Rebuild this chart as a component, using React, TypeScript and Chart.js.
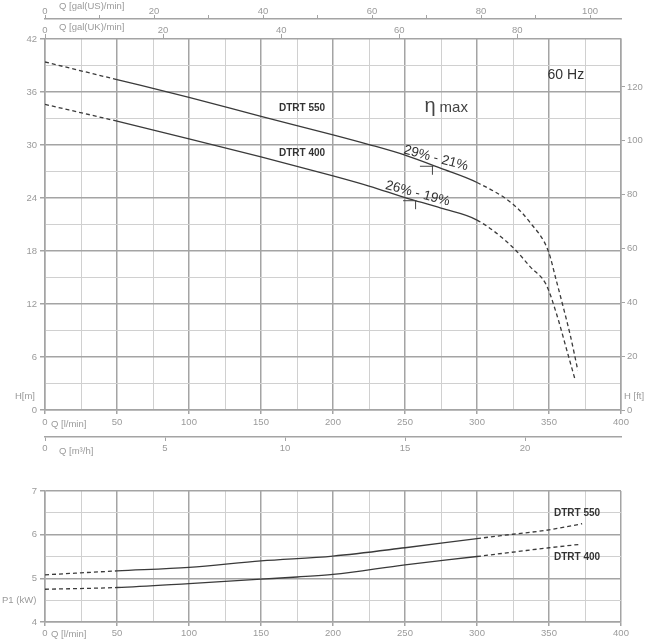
import React, { useEffect, useRef } from 'react';
import { Chart, registerables } from 'chart.js';

Chart.register(...registerables);

// ---------- data ----------
// Head curves (Q in l/min, H in m)
const flow550 = [0, 50, 100, 150, 200, 225, 250, 275, 300, 325, 337, 349.5, 355, 359.5, 365, 370];
const head550 = [39.4, 37.4, 35.4, 33.25, 31.15, 30.05, 28.85, 27.35, 25.75, 23.3, 21.2, 18.0, 14.7, 11.9, 8.3, 4.5];
const flow400 = [0, 50, 100, 150, 200, 225, 250, 275, 300, 325, 337, 348, 355, 363, 368];
const head400 = [34.6, 32.7, 30.7, 28.65, 26.5, 25.35, 24.05, 22.85, 21.5, 18.4, 16.2, 14.2, 11.0, 6.4, 3.5];

// Power curves (Q in l/min, P1 in kW)
const powerFlow550 = [0, 50, 100, 150, 200, 250, 300, 325, 350, 373];
const power550 = [5.08, 5.17, 5.25, 5.4, 5.51, 5.7, 5.91, 6.01, 6.11, 6.25];
const powerFlow400 = [0, 50, 100, 150, 175, 200, 250, 300, 350, 372];
const power400 = [4.75, 4.79, 4.88, 4.98, 5.03, 5.09, 5.31, 5.5, 5.7, 5.78];

// Solid (catalogue) range of each curve; outside it the curves are dashed
const solidFrom = 50;
const solidTo = 300;

// Best-efficiency markers: [Q, H]
const effMark550 = [268.7, 27.65];
const effMark400 = [257, 23.75];
const effLabel550 = '29% - 21%';
const effLabel400 = '26% - 19%';

// Axis ranges / unit conversions
const qMax = 400;
const hMax = 42;
const pMin = 4;
const pMax = 7;
const lpmPerUsGal = 3.785;
const lpmPerUkGal = 4.1; // as drawn on the reference axis
const lpmPerM3h = 16.667;
const ftPerM = 3.28084;

// ---------- styles ----------
const sans = "'Liberation Sans', Arial, sans-serif";
const axisFont = { family: sans, size: 9.5 };
const labelColor = '#9a9a9a';
const majorGrid = '#a4a4a4';
const minorGrid = '#d0d0d0';
const curveColor = '#3a3a3a';
const clear = 'rgba(0,0,0,0)';

const tv = (c: any) => (c && c.tick ? c.tick.value : 0);
const isMult = (v: number, m: number) => Math.abs(v / m - Math.round(v / m)) < 1e-6;

function curve(xs: number[], ys: number[], yAxisID: string) {
  return {
    type: 'line' as const,
    data: xs.map((x, i) => ({ x, y: ys[i] })),
    xAxisID: 'x',
    yAxisID,
    borderColor: curveColor,
    borderWidth: 1.3,
    pointRadius: 0,
    fill: false,
    cubicInterpolationMode: 'monotone' as const,
    segment: {
      borderDash: (ctx: any) =>
        ctx.p1.parsed.x <= solidFrom || ctx.p0.parsed.x >= solidTo ? [4, 3] : undefined,
    },
  };
}

function text(
  ctx: CanvasRenderingContext2D,
  s: string,
  x: number,
  y: number,
  font: string,
  color: string,
  align: CanvasTextAlign = 'left'
) {
  ctx.save();
  ctx.font = font;
  ctx.fillStyle = color;
  ctx.textAlign = align;
  ctx.textBaseline = 'middle';
  ctx.fillText(s, x, y);
  ctx.restore();
}

const qGrid = {
  color: (c: any) => (isMult(tv(c), 50) ? majorGrid : minorGrid),
  lineWidth: (c: any) => (isMult(tv(c), 50) ? 1.5 : 1),
  tickLength: 4,
  tickColor: (c: any) => (isMult(tv(c), 50) ? majorGrid : clear),
};

const topTexts = {
  id: 'topTexts',
  afterDraw(chart: any) {
    const ctx = chart.ctx as CanvasRenderingContext2D;
    const sx = chart.scales.x;
    const sy = chart.scales.y;
    const f = `9.5px ${sans}`;
    text(ctx, 'Q [gal(US)/min]', 59, 6.5, f, labelColor);
    text(ctx, 'Q [gal(UK)/min]', 59, 27, f, labelColor);
    text(ctx, 'Q [l/min]', 51, 424, f, labelColor);
    text(ctx, 'Q [m³/h]', 59, 451, f, labelColor);
    text(ctx, 'H[m]', 35, 396, f, labelColor, 'right');
    text(ctx, 'H [ft]', 624, 396, f, labelColor);

    text(ctx, '60 Hz', sx.getPixelForValue(349), sy.getPixelForValue(37.9), `14px ${sans}`, '#333');
    text(ctx, 'DTRT 550', sx.getPixelForValue(162.5), sy.getPixelForValue(34.2), `bold 10px ${sans}`, '#333');
    text(ctx, 'DTRT 400', sx.getPixelForValue(162.5), sy.getPixelForValue(29.1), `bold 10px ${sans}`, '#333');

    // eta max
    const ex = sx.getPixelForValue(263.5);
    const ey = sy.getPixelForValue(33.7);
    ctx.save();
    ctx.fillStyle = '#444';
    ctx.textBaseline = 'alphabetic';
    ctx.font = `20px ${sans}`;
    ctx.fillText('η', ex, ey);
    const w = ctx.measureText('η').width;
    ctx.font = `15px ${sans}`;
    ctx.fillText('max', ex + w + 4, ey);
    ctx.restore();

    // rotated efficiency labels
    const rot = (s: string, q: number, h: number) => {
      ctx.save();
      ctx.translate(sx.getPixelForValue(q), sy.getPixelForValue(h));
      ctx.rotate((15 * Math.PI) / 180);
      ctx.font = `13.5px ${sans}`;
      ctx.fillStyle = '#333';
      ctx.textAlign = 'center';
      ctx.textBaseline = 'middle';
      ctx.fillText(s, 0, 0);
      ctx.restore();
    };
    rot(effLabel550, 271.5, 28.5);
    rot(effLabel400, 258.8, 24.5);

    // efficiency markers
    const mark = (m: number[]) => {
      const px = sx.getPixelForValue(m[0]);
      const py = sy.getPixelForValue(m[1]);
      ctx.save();
      ctx.strokeStyle = '#444';
      ctx.lineWidth = 1;
      ctx.beginPath();
      ctx.moveTo(px - 12, py + 0.5);
      ctx.lineTo(px + 1.5, py + 0.5);
      ctx.moveTo(px + 0.5, py);
      ctx.lineTo(px + 0.5, py + 9);
      ctx.stroke();
      ctx.restore();
    };
    mark(effMark550);
    mark(effMark400);
  },
};

const bottomTexts = {
  id: 'bottomTexts',
  afterDraw(chart: any) {
    const ctx = chart.ctx as CanvasRenderingContext2D;
    const sx = chart.scales.x;
    const sy = chart.scales.y;
    const f = `9.5px ${sans}`;
    text(ctx, 'P1 (kW)', 2, 140, f, labelColor);
    text(ctx, 'Q [l/min]', 51, 174, f, labelColor);
    text(ctx, 'DTRT 550', sx.getPixelForValue(353.5), sy.getPixelForValue(6.5), `bold 10px ${sans}`, '#333');
    text(ctx, 'DTRT 400', sx.getPixelForValue(353.5), sy.getPixelForValue(5.49), `bold 10px ${sans}`, '#333');
  },
};

export default function App() {
  const topRef = useRef<HTMLCanvasElement>(null);
  const botRef = useRef<HTMLCanvasElement>(null);

  useEffect(() => {
    const top = new Chart(topRef.current as HTMLCanvasElement, {
      type: 'line',
      data: {
        datasets: [curve(flow550, head550, 'y'), curve(flow400, head400, 'y')] as any,
      },
      options: {
        animation: false,
        responsive: false,
        events: [],
        layout: { padding: 0 },
        plugins: { legend: { display: false }, tooltip: { enabled: false } },
        scales: {
          x: {
            type: 'linear',
            position: 'bottom',
            weight: 1,
            min: 0,
            max: qMax,
            afterFit: (s: any) => { s.height = 27; },
            ticks: {
              stepSize: 25,
              autoSkip: false,
              maxRotation: 0,
              padding: 3,
              color: labelColor,
              font: axisFont,
              callback: (v: any) => (isMult(v, 50) ? String(v) : ''),
            },
            grid: qGrid,
            border: { color: majorGrid, width: 1.5 },
          },
          xm3: {
            type: 'linear',
            position: 'bottom',
            weight: 2,
            min: 0,
            max: qMax / lpmPerM3h,
            afterFit: (s: any) => { s.height = 23; },
            ticks: { stepSize: 5, includeBounds: false, autoSkip: false, maxRotation: 0, padding: 2, color: labelColor, font: axisFont },
            grid: { drawOnChartArea: false, tickLength: 4, tickColor: majorGrid },
            border: { color: majorGrid, width: 1.5 },
          },
          xus: {
            type: 'linear',
            position: 'top',
            weight: 2,
            min: 0,
            max: qMax / lpmPerUsGal,
            afterFit: (s: any) => { s.height = 19; },
            ticks: {
              stepSize: 10,
              includeBounds: false,
              autoSkip: false,
              maxRotation: 0,
              padding: -2,
              color: labelColor,
              font: axisFont,
              callback: (v: any) => (isMult(v, 20) ? String(v) : ''),
            },
            grid: { drawOnChartArea: false, tickLength: 4, tickColor: majorGrid },
            border: { color: majorGrid, width: 1.5 },
          },
          xuk: {
            type: 'linear',
            position: 'top',
            weight: 1,
            min: 0,
            max: qMax / lpmPerUkGal,
            afterFit: (s: any) => { s.height = 20; },
            ticks: { stepSize: 20, includeBounds: false, autoSkip: false, maxRotation: 0, padding: -2, color: labelColor, font: axisFont },
            grid: { drawOnChartArea: false, tickLength: 5, tickColor: majorGrid },
            border: { display: false },
          },
          y: {
            type: 'linear',
            position: 'left',
            min: 0,
            max: hMax,
            afterFit: (s: any) => { s.width = 45; },
            ticks: {
              stepSize: 3,
              autoSkip: false,
              padding: 3,
              color: labelColor,
              font: axisFont,
              callback: (v: any) => (isMult(v, 6) ? String(v) : ''),
            },
            grid: {
              color: (c: any) => (isMult(tv(c), 6) ? majorGrid : minorGrid),
              lineWidth: (c: any) => (isMult(tv(c), 6) ? 1.5 : 1),
              tickLength: 5,
              tickColor: (c: any) => (isMult(tv(c), 6) ? majorGrid : clear),
            },
            border: { color: majorGrid, width: 1.5 },
          },
          yft: {
            type: 'linear',
            position: 'right',
            min: 0,
            max: hMax * ftPerM,
            afterFit: (s: any) => { s.width = 29; },
            ticks: { stepSize: 20, includeBounds: false, autoSkip: false, padding: 2, color: labelColor, font: axisFont },
            grid: { drawOnChartArea: false, tickLength: 4, tickColor: majorGrid },
            border: { color: majorGrid, width: 1.5 },
          },
        },
      } as any,
      plugins: [topTexts],
    });

    const bottom = new Chart(botRef.current as HTMLCanvasElement, {
      type: 'line',
      data: {
        datasets: [curve(powerFlow550, power550, 'y'), curve(powerFlow400, power400, 'y')] as any,
      },
      options: {
        animation: false,
        responsive: false,
        events: [],
        layout: { padding: { top: 31, right: 29, left: 0, bottom: 0 } },
        plugins: { legend: { display: false }, tooltip: { enabled: false } },
        scales: {
          x: {
            type: 'linear',
            position: 'bottom',
            min: 0,
            max: qMax,
            afterFit: (s: any) => { s.height = 17; },
            ticks: {
              stepSize: 25,
              autoSkip: false,
              maxRotation: 0,
              padding: 2,
              color: labelColor,
              font: axisFont,
              callback: (v: any) => (isMult(v, 50) ? String(v) : ''),
            },
            grid: qGrid,
            border: { color: majorGrid, width: 1.5 },
          },
          y: {
            type: 'linear',
            position: 'left',
            min: pMin,
            max: pMax,
            afterFit: (s: any) => { s.width = 45; },
            ticks: {
              stepSize: 0.5,
              autoSkip: false,
              padding: 3,
              color: labelColor,
              font: axisFont,
              callback: (v: any) => (isMult(v, 1) ? String(v) : ''),
            },
            grid: {
              color: (c: any) => (isMult(tv(c), 1) ? majorGrid : minorGrid),
              lineWidth: (c: any) => (isMult(tv(c), 1) ? 1.5 : 1),
              tickLength: 5,
              tickColor: (c: any) => (isMult(tv(c), 1) ? majorGrid : clear),
            },
            border: { color: majorGrid, width: 1.5 },
          },
        },
      } as any,
      plugins: [bottomTexts],
    });

    return () => {
      top.destroy();
      bottom.destroy();
    };
  }, []);

  return (
    <div style={{ position: 'absolute', left: 0, top: 0, width: 650, height: 639, background: '#fff' }}>
      <canvas ref={topRef} width={650} height={460} style={{ position: 'absolute', left: 0, top: 0 }} />
      <canvas ref={botRef} width={650} height={179} style={{ position: 'absolute', left: 0, top: 460 }} />
    </div>
  );
}
